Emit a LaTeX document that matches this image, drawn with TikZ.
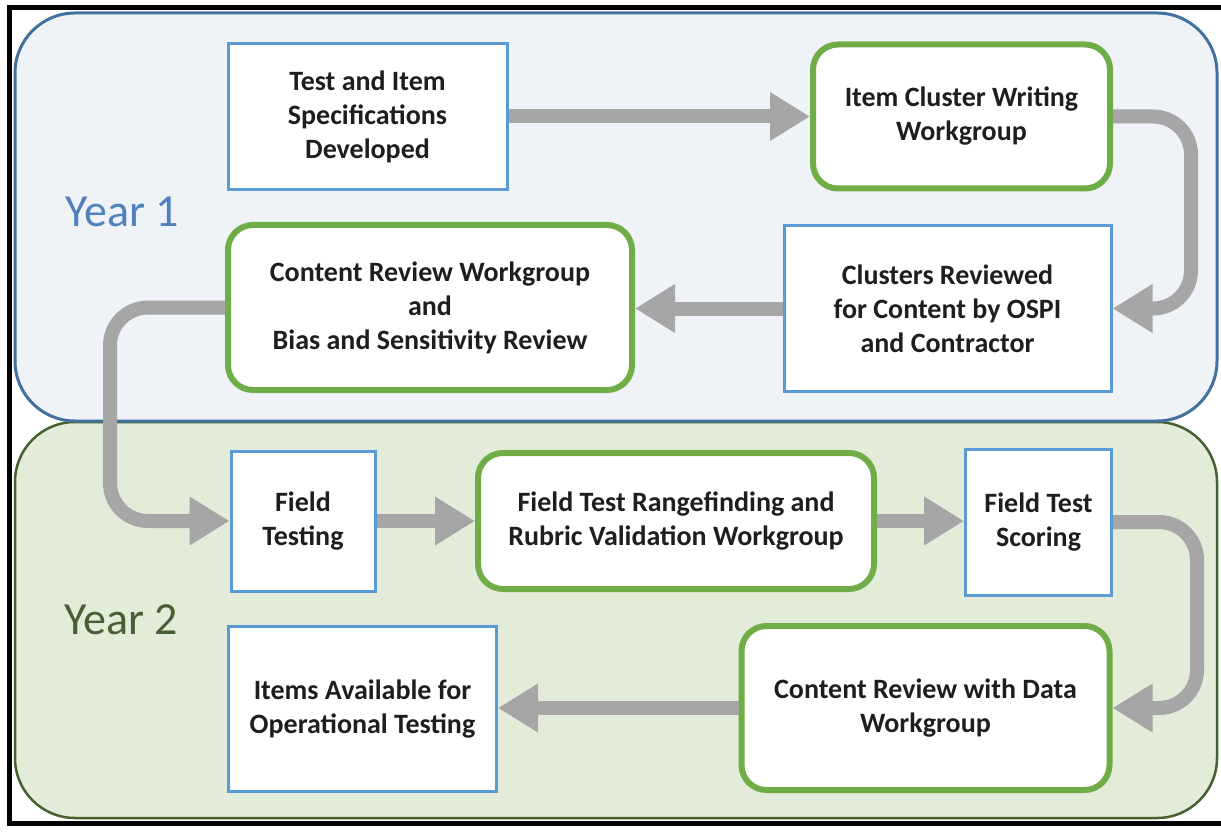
\documentclass[tikz,border=0pt]{standalone}
\usepackage{fontspec}
\setmainfont{Carlito}
\usetikzlibrary{arrows.meta}
\definecolor{panelAfill}{HTML}{EFF3F8}
\definecolor{panelAline}{HTML}{41719C}
\definecolor{panelBfill}{HTML}{E3EBD9}
\definecolor{panelBline}{HTML}{46612F}
\definecolor{yearA}{HTML}{4F81BD}
\definecolor{yearB}{HTML}{4A5E36}
\definecolor{boxblue}{HTML}{5B9BD5}
\definecolor{boxgreen}{HTML}{70AD47}
\definecolor{arrowgray}{HTML}{A6A6A6}
\definecolor{textdark}{HTML}{1E1E1E}
\tikzset{
  boxtext/.style={font=\bfseries\fontsize{28}{34}\selectfont, text=textdark, align=center, fill=white, inner sep=0pt},
  bluebox/.style={boxtext, draw=boxblue, line width=3pt, rectangle},
  greenbox/.style={boxtext, draw=boxgreen, line width=6pt, rectangle, rounded corners=25pt},
  flow/.style={draw=arrowgray, line width=14pt, -{Triangle[length=40pt,width=46pt]}, rounded corners=38pt},
  yearlabel/.style={font=\fontsize{46}{54}\selectfont, anchor=base west, inner sep=0pt}
}
\begin{document}
\begin{tikzpicture}[x=1pt,y=-1pt]
\useasboundingbox (0,0) rectangle (1221,837);
\fill[white] (0,0) rectangle (1221,837);
\begin{scope}
  \clip (0,0) rectangle (1221,837);
  \draw[line width=5pt] (9,7.5) rectangle (1240,823.5);
\end{scope}
% panels
\draw[fill=panelBfill, draw=panelBline, line width=2.5pt, rounded corners=60pt] (15,422) rectangle (1217,818);
\draw[fill=panelAfill, draw=panelAline, line width=3pt, rounded corners=60pt] (15,13) rectangle (1217,421);
\node[yearlabel, text=yearA] (y1) at (65,226) {Year 1};
\node[yearlabel, text=yearB] (y2) at (64,634) {Year 2};
% boxes
\node[bluebox, minimum width=279pt, minimum height=146pt] (n1) at (367.5,116.5) {Test and Item\\Specifications\\Developed};
\node[greenbox, minimum width=297pt, minimum height=144pt] (n2) at (961.5,116.5) {Item Cluster Writing\\Workgroup};
\node[bluebox, minimum width=327pt, minimum height=165pt] (n3) at (947.5,308.5) {Clusters Reviewed\\for Content by OSPI\\and Contractor};
\node[greenbox, minimum width=404pt, minimum height=165pt] (n4) at (430,307.5) {Content Review Workgroup\\and\\Bias and Sensitivity Review};
\node[bluebox, minimum width=144pt, minimum height=140pt] (n5) at (303,521) {Field\\Testing};
\node[greenbox, minimum width=396pt, minimum height=136pt] (n6) at (676,521) {Field Test Rangefinding and\\Rubric Validation Workgroup};
\node[bluebox, minimum width=146pt, minimum height=146pt] (n7) at (1038.5,522) {Field Test\\Scoring};
\node[greenbox, minimum width=368pt, minimum height=164pt] (n8) at (925.5,708) {Content Review with Data\\Workgroup};
\node[bluebox, minimum width=268pt, minimum height=165pt] (n9) at (362.5,709) {Items Available for\\Operational Testing};
% connectors
\draw[flow] (n1.east) -- (n1.east -| n2.west);
\draw[flow] (n2.east) -- ++(78,0) |- (n3.east);
\draw[flow] (n3.west) -- (n3.west -| n4.east);
\draw[flow] (n4.west) -- ++(-115,0) |- (n5.west);
\draw[flow] (n5.east) -- (n5.east -| n6.west);
\draw[flow] (n6.east) -- (n6.east -| n7.west);
\draw[flow] (n7.east) -- ++(84,0) |- (n8.east);
\draw[flow] (n8.west) -- (n8.west -| n9.east);
\end{tikzpicture}
\end{document}
